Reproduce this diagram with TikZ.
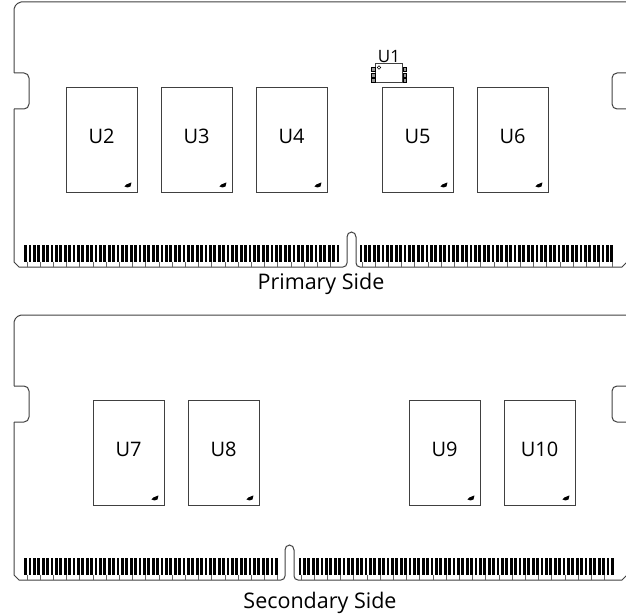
\documentclass[tikz,border=0pt]{standalone}
\usepackage{fontspec}
\setmainfont{Open Sans}
\usepackage{tikz}
\usetikzlibrary{positioning}

\tikzset{
  outline/.style={draw=black!75,line width=1pt},
  chip/.style={draw=black!75,line width=0.9pt,minimum width=71pt,minimum height=105pt,inner sep=0pt,text depth=6pt,font=\fontsize{20}{20}\selectfont},
  sidelabel/.style={font=\fontsize{21.5}{22}\selectfont,inner sep=0pt,anchor=base},
  pin/.style={line width=2.8pt,black},
  pintail/.style={line width=0.7pt,black!60}
}

\newcommand{\pinrow}[3]{%
  \foreach \x in {#1,#2,...,#3} {
    \draw[pin] (\x,\pintop) -- (\x,\pintop+16.5);
  }
}

\newcommand{\pintails}[3]{%
  \foreach \x in {#1,#2,...,#3} {
    \draw[pintail] (\x,\pintop+16.5) -- (\x,\pintop+22);
  }
}

\newcommand{\board}[2]{%
  \draw[outline,rounded corners=2pt] (630,#1) -- (19,#1) -- (14,#1+5) -- (14,#1+71);
  \draw[outline] (14,#1+71) -- (24,#1+71) to[out=0,in=90] (29,#1+76) -- (29,#1+102) to[out=-90,in=0] (24,#1+107) -- (14,#1+107);
  \draw[outline] (14,#1+107) -- (14,#1+260) -- (19,#1+265) -- (#2-4,#1+265) to[out=0,in=-90] (#2,#1+261) -- (#2,#1+235)
    to[out=90,in=180] (#2+4.5,#1+230) to[out=0,in=90] (#2+9,#1+235) -- (#2+9,#1+261) to[out=-90,in=180] (#2+13,#1+265) -- (622,#1+265) -- (627,#1+260);
  \draw[outline] (630,#1+71) -- (617,#1+71) to[out=180,in=90] (612,#1+76) -- (612,#1+102) to[out=-90,in=180] (617,#1+107) -- (630,#1+107);
}

\begin{document}
\begin{tikzpicture}[x=1pt,y=-1pt]
  \useasboundingbox (0,0) rectangle (626,615);
  \clip (0,0) rectangle (626,615);

  % primary side
  \board{2}{347}
  \def\pintop{245}
  \pinrow{25.5}{29.9}{341}
  \pintails{27}{40.2}{341}
  \pinrow{361}{365.4}{614}
  \pintails{362}{375.2}{614}

  \node[chip] (U2) at (101.5,139.5) {U2};
  \node[chip,right=23.1pt of U2] (U3) {U3};
  \node[chip,right=23.1pt of U3] (U4) {U4};
  \node[chip,right=54.1pt of U4] (U5) {U5};
  \node[chip,right=23.1pt of U5] (U6) {U6};
  \foreach \n in {U2,U3,U4,U5,U6} {
    \fill[black] ([xshift=-13pt,yshift=6pt]\n.south east) -- ++(2,-2) -- ++(5,-2) -- ++(-1,4) -- ++(-3,1) -- cycle;
  }

  % small package
  \node[outline,minimum width=27pt,minimum height=19pt,inner sep=0pt] (U1pkg) at (389,73.5) {};
  \node[font=\fontsize{17}{17}\selectfont,inner sep=0pt,above=1pt of U1pkg] (U1) {U1};
  \draw[line width=0.6pt] ([xshift=4pt,yshift=-4pt]U1pkg.north west) circle (1.8);
  \foreach \k in {0,1,2} {
    \draw[line width=0.6pt,fill=black!40] ([xshift=-3.5pt,yshift=1+5.5*\k]U1pkg.south west) rectangle ++(3.5,-4);
    \draw[line width=0.6pt,fill=black!40] ([yshift=1+5.5*\k]U1pkg.south east) rectangle ++(3.5,-4);
  }

  \node[sidelabel] (primary) at (321,289) {Primary Side};

  % secondary side
  \board{315}{285}
  \def\pintop{558}
  \pinrow{25.5}{29.9}{280}
  \pintails{27}{40.2}{280}
  \pinrow{300}{304.4}{614}
  \pintails{301}{314.2}{614}

  \node[chip] (U7) at (128.5,452.5) {U7};
  \node[chip,right=23.1pt of U7] (U8) {U8};
  \node[chip,right=149.1pt of U8] (U9) {U9};
  \node[chip,right=23.1pt of U9] (U10) {U10};
  \foreach \n in {U7,U8,U9,U10} {
    \fill[black] ([xshift=-13pt,yshift=6pt]\n.south east) -- ++(2,-2) -- ++(5,-2) -- ++(-1,4) -- ++(-3,1) -- cycle;
  }

  \node[sidelabel] (secondary) at (320,608) {Secondary Side};
\end{tikzpicture}
\end{document}
